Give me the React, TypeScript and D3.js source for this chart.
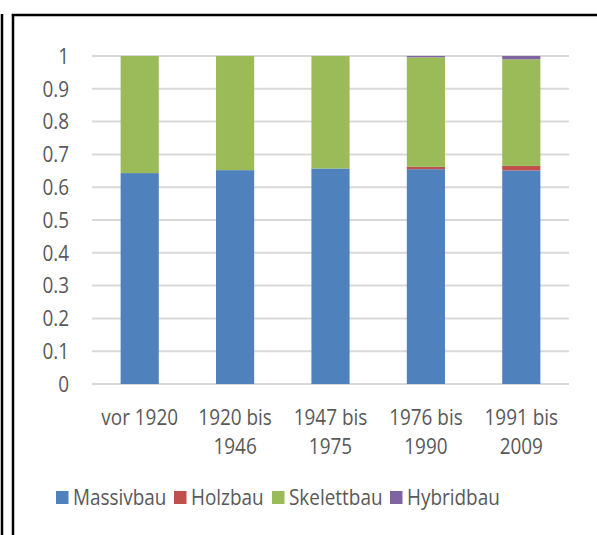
import React from "react";
import * as d3 from "d3";

// Zeiträume (Kategorien), zweizeilige Beschriftung
const categories = ["vor 1920", "1920 bis 1946", "1947 bis 1975", "1976 bis 1990", "1991 bis 2009"];
const categoryLines = [["vor 1920"], ["1920 bis", "1946"], ["1947 bis", "1975"], ["1976 bis", "1990"], ["1991 bis", "2009"]];

// Anteile je Bauweise
const massivbau = [0.643, 0.652, 0.657, 0.655, 0.651];
const holzbau = [0.0, 0.0, 0.0, 0.007, 0.014];
const skelettbau = [0.357, 0.348, 0.343, 0.334, 0.325];
const hybridbau = [0.0, 0.0, 0.0, 0.004, 0.01];

const seriesNames = ["Massivbau", "Holzbau", "Skelettbau", "Hybridbau"];
const seriesColors = ["#4F81BD", "#C0504D", "#9BBB59", "#8064A2"];
const yTicks = [0, 0.1, 0.2, 0.3, 0.4, 0.5, 0.6, 0.7, 0.8, 0.9, 1];

const W = 597;
const H = 535;
const font = "'Open Sans', 'Noto Sans', sans-serif";
const textColor = "#595959";
const fs = 21.5;
const sx = 0.88; // schmaler, wie Calibri

// text etwas schmaler gezogen
function Label({ x, y, anchor, dy, children }: any) {
  return (
    <text
      transform={`translate(${x},${y}) scale(${sx},1)`}
      dy={dy}
      textAnchor={anchor}
      fontFamily={font}
      fontSize={fs}
      fill={textColor}
    >
      {children}
    </text>
  );
}

export default function App() {
  const rows = categories.map((c, i) => ({
    cat: c,
    Massivbau: massivbau[i],
    Holzbau: holzbau[i],
    Skelettbau: skelettbau[i],
    Hybridbau: hybridbau[i],
  }));
  const stacked = d3.stack<any>().keys(seriesNames)(rows);

  const x = d3.scaleBand().domain(categories).range([92, 569]).padding(0);
  const y = d3.scaleLinear().domain([0, 1]).range([384, 56]);
  const barW = x.bandwidth() * 0.4;

  const legendX = [56, 174, 272, 390];

  return (
    <svg width={W} height={H} style={{ position: "absolute", left: 0, top: 0, background: "#fff" }}>
      {/* Rahmen */}
      <line x1={2} y1={14} x2={2} y2={H} stroke="#000" strokeWidth={2.5} />
      <line x1={13} y1={14} x2={13} y2={H} stroke="#000" strokeWidth={2.5} />
      <line x1={11.8} y1={15} x2={W} y2={15} stroke="#000" strokeWidth={2.5} />

      {/* Gitter */}
      {yTicks.map((t) => (
        <line key={t} x1={92} x2={569} y1={y(t)} y2={y(t)} stroke="#D9D9D9" strokeWidth={2} />
      ))}
      {yTicks.map((t) => (
        <Label key={"l" + t} x={69} y={y(t)} dy="0.36em" anchor="end">
          {t === 0 || t === 1 ? String(t) : t.toFixed(1)}
        </Label>
      ))}

      {/* Balken */}
      {stacked.map((s, si) => (
        <g key={s.key} fill={seriesColors[si]}>
          {s.map((d, i) => {
            const h = y(d[0]) - y(d[1]);
            if (h <= 0) return null;
            return (
              <rect key={i} x={(x(categories[i]) as number) + (x.bandwidth() - barW) / 2} y={y(d[1])} width={barW} height={h} />
            );
          })}
        </g>
      ))}

      {/* x-Beschriftung */}
      {categoryLines.map((lines, i) =>
        lines.map((ln, j) => (
          <Label key={i + "-" + j} x={(x(categories[i]) as number) + x.bandwidth() / 2} y={425 + j * 28.5} anchor="middle">
            {ln}
          </Label>
        ))
      )}

      {/* Legende */}
      {seriesNames.map((n, i) => (
        <g key={n}>
          <rect x={legendX[i]} y={491} width={12.5} height={13} fill={seriesColors[i]} />
          <Label x={legendX[i] + 17} y={505} anchor="start">
            {n}
          </Label>
        </g>
      ))}
    </svg>
  );
}
